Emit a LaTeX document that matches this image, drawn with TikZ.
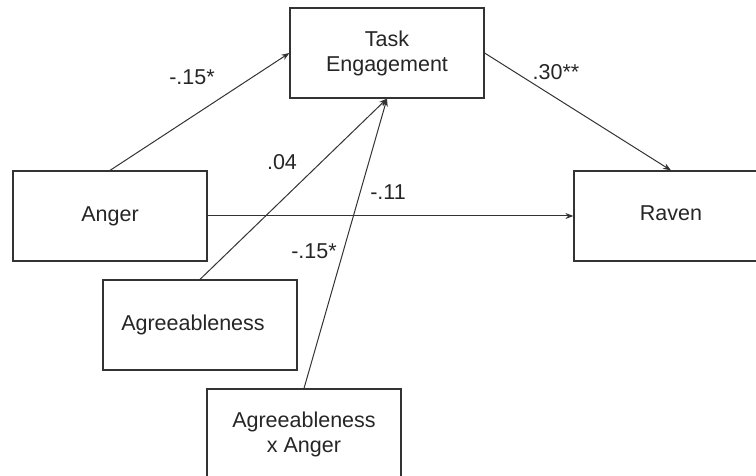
\documentclass[tikz,border=0pt]{standalone}
\usepackage{fontspec}
\setmainfont{Liberation Sans}
\usepackage{xcolor}
\usetikzlibrary{arrows.meta, positioning}

\begin{document}
\begin{tikzpicture}[x=1pt, y=-1pt, >={Stealth[length=8pt, width=6pt]}, line width=1pt]
    \tikzset{
        block/.style={rectangle, draw=black!80, line width=1.2pt, fill=white, minimum height=90pt, minimum width=194pt, inner sep=0pt, align=center, text=black!85, font=\fontsize{21.5}{25}\selectfont},
        line/.style={draw=black!80, ->, shorten >=0pt},
        coef/.style={text=black!85, font=\fontsize{21.5}{25}\selectfont}
    }
    \clip (0,0) rectangle (756,476);

    \node (Task) [block] at (387,53) {Task\\Engagement};
    \node (Anger) [block] at (110,216) {Anger};
    \node (Raven) [block] at (671,216) {\raisebox{6pt}{Raven}};
    \node (Agree) [block] at (200,325) {\raisebox{4pt}{Agreeableness}\hspace*{14pt}};
    \node (Inter) [block] at (304,434) {Agreeableness\\x Anger};

    \path [line] (Anger.north) -- (Task.west);
    \path [line] (Task.east) -- (Raven.north);
    \path [line] (Anger.east) -- (Raven.west);
    \path [line] (Agree.north) -- (Task.south);
    \path [line] (Inter.north) -- (Task.south);

    \node (cAT) [coef] at (192,77) {-.15*};
    \node (cTR) [coef] at (556,72) {.30**};
    \node (cGT) [coef] at (282,162) {.04};
    \node (cAR) [coef] at (388,192) {-.11};
    \node (cIT) [coef] at (314,251) {-.15*};

\end{tikzpicture}
\end{document}
